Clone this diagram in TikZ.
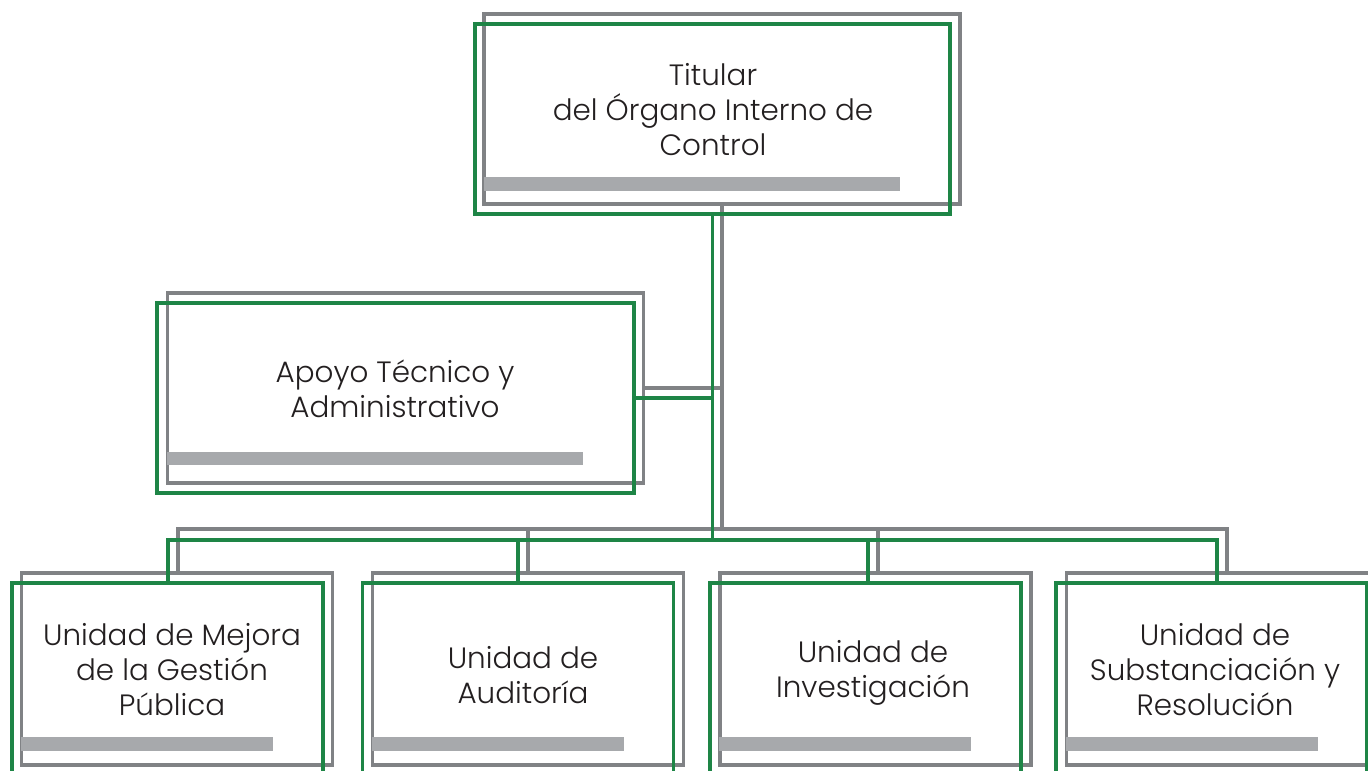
\documentclass[tikz,border=0pt]{standalone}
\usepackage{fontspec}
\setmainfont{Poppins}[UprightFont={* Light}]
\definecolor{lgray}{HTML}{808285}
\definecolor{lgreen}{HTML}{1E8546}
\definecolor{bargray}{HTML}{A7A9AC}
\definecolor{txt}{HTML}{231F20}
\begin{document}
\begin{tikzpicture}[x=1pt,y=-1pt,
  gbox/.style={draw=lgray, line width=3.6pt, rectangle, inner sep=0pt},
  grbox/.style={draw=lgreen, line width=3.8pt, rectangle, inner sep=0pt},
  gline/.style={draw=lgray, line width=3.6pt},
  grline/.style={draw=lgreen, line width=3.8pt},
  bar/.style={fill=bargray, rectangle, inner sep=0pt, minimum height=14pt},
  big/.style={minimum width=476pt, minimum height=190pt},
  small/.style={minimum width=311pt, minimum height=192pt},
  lbl/.style={align=center, text=txt, inner sep=0pt, font=\fontsize{29.4}{35}\selectfont}]
\clip (0,0) rectangle (1368,771);
\fill[white] (0,0) rectangle (1368,771);

% gray boxes
\node[gbox, big] (g0) at (722,109) {};
\node[gbox, big] (ga) at (405.5,388) {};
\node[gbox, small] (gb1) at (177,669) {};
\node[gbox, small] (gb2) at (528,669) {};
\node[gbox, small] (gb3) at (875.5,669) {};
\node[gbox, small] (gb4) at (1222,669) {};

% gray connectors
\coordinate (gk1) at (178,529);
\coordinate (gk2) at (528,529);
\coordinate (gk3) at (878,529);
\coordinate (gk4) at (1227,529);
\coordinate (gj) at (722,529);
\draw[gline] (g0.south) -- (gj);
\draw[gline] (ga.east) -- (ga.east -| g0.south);
\draw[gline] (gk1 |- gb1.north) -- (gk1) -- (gk4) -- (gk4 |- gb4.north);
\draw[gline] (gk2) -- (gk2 |- gb2.north);
\draw[gline] (gk3) -- (gk3 |- gb3.north);

% bars
\node[bar, minimum width=416pt] (b0) at (692,184) {};
\node[bar, minimum width=416pt, minimum height=13pt] (ba) at (375,458.5) {};
\node[bar, minimum width=252pt] (b1) at (147,744) {};
\node[bar, minimum width=252pt] (b2) at (498,744) {};
\node[bar, minimum width=252pt] (b3) at (845,744) {};
\node[bar, minimum width=252pt] (b4) at (1192,744) {};

% green boxes
\node[grbox, big, minimum width=475pt] (r0) at (712.5,119) {};
\node[grbox, big, minimum width=477pt] (ra) at (395.5,398) {};
\node[grbox, small] (rb1) at (167.5,679) {};
\node[grbox, small] (rb2) at (518,679) {};
\node[grbox, small] (rb3) at (865.5,679) {};
\node[grbox, small] (rb4) at (1211.5,679) {};

% green connectors
\coordinate (rk1) at (168,540);
\coordinate (rk2) at (518,540);
\coordinate (rk3) at (868,540);
\coordinate (rk4) at (1217,540);
\coordinate (rj) at (712.5,540);
\draw[grline] (r0.south) -- (rj);
\draw[grline] (ra.east) -- (ra.east -| r0.south);
\draw[grline] (rk1 |- rb1.north) -- (rk1) -- (rk4) -- (rk4 |- rb4.north);
\draw[grline] (rk2) -- (rk2 |- rb2.north);
\draw[grline] (rk3) -- (rk3 |- rb3.north);

% labels
\node[lbl] (t0) at (713,110) {Titular\\del Órgano Interno de\\Control};
\node[lbl] (ta) at (395,389) {Apoyo Técnico y\\Administrativo};
\node[lbl] (t1) at (172,670) {Unidad de Mejora\\de la Gestión\\Pública};
\node[lbl] (t2) at (523,675) {Unidad de\\Auditoría};
\node[lbl] (t3) at (873,672.5) {Unidad de\\Investigación};
\node[lbl] (t4) at (1215,669.5) {Unidad de\\Substanciación y\\Resolución};
\end{tikzpicture}
\end{document}
